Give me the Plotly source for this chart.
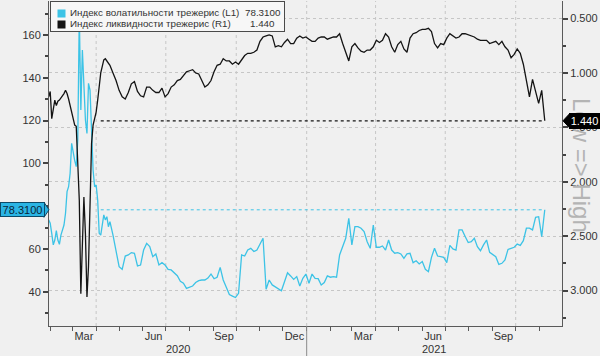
import pandas as pd
import plotly.graph_objects as go

# ---------------- data ----------------
dates_early = pd.date_range("2020-01-30", periods=41, freq="2D")
dates_late = pd.date_range("2020-04-23", periods=142, freq="4D")
dates = list(dates_early) + list(dates_late)

volatility = [
    73.6, 72.0, 67.3, 61.9, 64.2, 68.6, 64.2, 62.2, 66.5, 68.6,
    71.2, 76.7, 86.8, 89.1, 95.4, 109.4, 104.7, 101.3, 98.5, 110.9,
    170.1, 125.0, 153.0, 135.9, 120.3, 114.0, 137.4, 134.3, 110.9, 96.9,
    89.1, 89.9, 82.9, 67.3, 66.5, 72.0, 75.9, 73.6, 75.1, 70.4, 72.8,
    66.5, 58.8, 51.7, 50.5, 56.7, 57.2, 58.3, 58.0, 52.1, 52.5, 59.5, 62.6, 61.1,
    56.4, 57.7, 52.5, 53.6, 52.5, 50.5, 50.2, 48.9, 47.5, 44.9,
    44.0, 41.6, 42.1, 42.7, 44.3, 45.2, 45.5, 45.5, 46.4, 48.3,
    46.1, 46.8, 51.4, 45.5, 42.1, 38.7, 38.0, 37.3, 39.3, 57.2,
    56.7, 59.5, 60.3, 58.8,
    59.5, 62.6, 65.0, 41.2, 45.5, 43.2, 42.4, 41.6, 40.5, 44.7,
    48.9, 47.4, 45.8, 47.1, 42.7, 46.3, 48.3, 44.0, 48.3, 46.3,
    46.1, 43.2, 44.3, 47.4, 46.8, 47.1, 46.8, 57.2, 61.1, 65.0,
    74.3, 61.9, 70.4, 70.4,
    69.7, 68.1, 63.4, 60.3, 71.2, 60.8, 60.8, 61.4, 59.5, 64.2,
    59.5, 58.0, 58.3, 57.7, 55.6, 57.7, 58.0, 53.6, 54.5, 53.0,
    54.1, 50.5, 49.4, 56.1, 60.3, 56.7, 56.4, 56.1, 53.6, 61.7,
    60.0, 59.5, 68.9, 68.9, 65.8,
    63.0, 63.4, 65.0, 61.1, 59.2, 61.9, 64.2, 58.4, 57.2, 56.4,
    52.8, 53.3, 54.9, 59.8, 60.3, 60.8, 62.3, 61.7, 63.9, 69.7,
    69.7, 68.9, 74.8, 75.1, 65.8, 78.31,
]

liquidity = [
    1.22, 1.17, 1.42, 1.31, 1.25, 1.30, 1.26, 1.25, 1.23, 1.22,
    1.19, 1.16, 1.19, 1.24, 1.30, 1.34, 1.43, 1.48, 1.49, 1.77,
    2.17, 3.03, 2.66, 2.14, 2.48, 3.06, 2.78, 2.32, 1.65, 1.48,
    1.42, 1.36, 1.25, 1.10, 1.00, 0.94, 0.88, 0.87, 0.89, 0.91, 0.93,
    1.00, 1.07, 1.16, 1.22, 1.24, 1.18, 1.10, 1.08, 1.17, 1.21, 1.22, 1.13, 1.13,
    1.16, 1.18, 1.18, 1.14, 1.22, 1.19, 1.13, 1.11, 1.07, 1.06,
    1.02, 0.99, 0.98, 0.97, 1.00, 1.01, 1.07, 1.13, 1.11, 1.07,
    0.99, 0.93, 0.92, 0.87, 0.89, 0.89, 0.92, 0.90, 0.92, 0.88,
    0.84, 0.82, 0.82, 0.81,
    0.79, 0.71, 0.67, 0.66, 0.65, 0.66, 0.76, 0.75, 0.76, 0.72,
    0.69, 0.73, 0.73, 0.68, 0.66, 0.68, 0.67, 0.69, 0.71, 0.71,
    0.68, 0.67, 0.67, 0.69, 0.68, 0.67, 0.67, 0.64, 0.73, 0.82,
    0.89, 0.76, 0.73, 0.77,
    0.80, 0.81, 0.79, 0.79, 0.76, 0.70, 0.72, 0.70, 0.64, 0.67,
    0.76, 0.81, 0.74, 0.71, 0.78, 0.81, 0.68, 0.64, 0.63, 0.61,
    0.60, 0.60, 0.59, 0.62, 0.73, 0.77, 0.73, 0.74, 0.68, 0.64,
    0.66, 0.68, 0.67, 0.64, 0.64,
    0.65, 0.66, 0.67, 0.69, 0.70, 0.70, 0.70, 0.73, 0.72, 0.71,
    0.74, 0.71, 0.76, 0.79, 0.86, 0.83, 0.78, 0.82, 0.92, 1.08,
    1.22, 1.06, 1.17, 1.28, 1.16, 1.44,
]

series_names = ["Индекс волатильности трежерис (L1)", "Индекс ликвидности трежерис (R1)"]
vol_last_text = "78.3100"
liq_last_text = "1.440"
right_axis_title = "Low => High"

ref_line_dates = ["2020-04-07", "2021-11-05"]

month_label_dates = ["2020-03-16", "2020-06-15", "2020-09-15", "2020-12-16",
                     "2021-03-16", "2021-06-15", "2021-09-15"]
month_labels = ["Mar", "Jun", "Sep", "Dec", "Mar", "Jun", "Sep"]
quarter_starts = ["2020-04-01", "2020-07-01", "2020-10-01", "2021-01-01",
                  "2021-04-01", "2021-07-01", "2021-10-01"]
month_starts = list(pd.date_range("2020-02-01", "2021-11-01", freq="MS"))
year_labels = ["2020", "2021"]
year_boundary = "2021-01-01"

left_ticks = [40, 60, 80, 100, 120, 140, 160]
left_tick_text = ["40", "60", "", "100", "120", "140", "160"]  # 80 sits under the value tag
right_ticks = [0.5, 1.0, 1.5, 2.0, 2.5, 3.0]

x_start = pd.Timestamp("2020-01-30 10:00")
x_end = pd.Timestamp("2021-11-30 12:00")
left_range = [24.0, 175.9]
right_range = [3.326, 0.339]

# ---------------- styles ----------------
CYAN = "#3cc3e6"
BLACK = "#141414"
BG = "#f0f0f0"
GRID = "#c6c6c6"
AXIS = "#5a5a5a"
FONT = "Liberation Sans"
LEG_SIZE = 9.8
W, H = 600, 356
ML, MR, MT, MB = 49, 38, 1, 30
PW, PH = W - ML - MR, H - MT - MB


def px_x(p):  # pixel column -> paper x
    return (p - ML) / PW


def frac(v, rng):  # axis value -> paper y
    return (v - rng[0]) / (rng[1] - rng[0])


fig = go.Figure()

fig.add_trace(go.Scatter(x=ref_line_dates, y=[volatility[-1]] * 2, mode="lines",
                         line=dict(color=CYAN, width=1, dash="dot"), yaxis="y",
                         showlegend=False, hoverinfo="skip"))
fig.add_trace(go.Scatter(x=dates, y=volatility, mode="lines", name=series_names[0],
                         line=dict(color=CYAN, width=1.3), yaxis="y", showlegend=False))
fig.add_trace(go.Scatter(x=ref_line_dates, y=[liquidity[-1]] * 2, mode="lines",
                         line=dict(color=BLACK, width=1.2, dash="dot"), yaxis="y2",
                         showlegend=False, hoverinfo="skip"))
fig.add_trace(go.Scatter(x=dates, y=liquidity, mode="lines", name=series_names[1],
                         line=dict(color=BLACK, width=1.3), yaxis="y2", showlegend=False))

shapes = []
for q in quarter_starts:
    shapes.append(dict(type="line", xref="x", yref="paper", x0=q, x1=q, y0=0, y1=1,
                       line=dict(color=GRID, width=1, dash="dot"), layer="below"))
shapes.append(dict(type="line", xref="x", yref="paper", x0=year_boundary, x1=year_boundary,
                   y0=0, y1=-0.12, line=dict(color="#8a8a8a", width=1)))

# tag pointers
yv = frac(volatility[-1], left_range)
yr = frac(liquidity[-1], right_range)
hh = 7.5 / PH
shapes.append(dict(type="path", xref="paper", yref="paper",
                   path=f"M {px_x(44)},{yv-hh} L {px_x(49)},{yv} L {px_x(44)},{yv+hh} Z",
                   fillcolor="#2ab4e4", line=dict(color="#0c4a68", width=1), layer="above"))
shapes.append(dict(type="path", xref="paper", yref="paper",
                   path=f"M {px_x(570)},{yr-hh} L {px_x(563)},{yr} L {px_x(570)},{yr+hh} Z",
                   fillcolor="#000000", line=dict(color="#000000", width=1), layer="above"))

NB = "\u00a0"
row1 = frac(12.5, [H - MB, MT])
row2 = frac(23.5, [H - MB, MT])
annotations = [
    # right axis title (drawn first so the value tag sits on top)
    dict(text=right_axis_title, xref="paper", yref="paper", x=px_x(582), y=frac(165, [H - MB, MT]),
         xanchor="center", yanchor="middle", textangle=90, showarrow=False,
         font=dict(family=FONT, size=24, color="#b4b4b4")),
    # legend box
    dict(text=NB, xref="paper", yref="paper", x=px_x(49.5), y=1.0, xanchor="left", yanchor="top",
         width=233, height=29, bgcolor="#f7f7f7", bordercolor="#4a4a4a", borderwidth=1,
         borderpad=0, showarrow=False),
    dict(text=NB, xref="paper", yref="paper", x=px_x(57), y=frac(8.5, [H - MB, MT]),
         xanchor="left", yanchor="top", width=7, height=7, bgcolor=CYAN, borderpad=0,
         showarrow=False, font=dict(size=4)),
    dict(text=NB, xref="paper", yref="paper", x=px_x(57), y=frac(19.5, [H - MB, MT]),
         xanchor="left", yanchor="top", width=7, height=7, bgcolor=BLACK, borderpad=0,
         showarrow=False, font=dict(size=4)),
    dict(text=series_names[0], xref="paper", yref="paper", x=px_x(68), y=row1,
         xanchor="left", yanchor="middle", showarrow=False,
         font=dict(family=FONT, size=LEG_SIZE, color="#333333")),
    dict(text=series_names[1], xref="paper", yref="paper", x=px_x(68), y=row2,
         xanchor="left", yanchor="middle", showarrow=False,
         font=dict(family=FONT, size=LEG_SIZE, color="#333333")),
    dict(text=vol_last_text, xref="paper", yref="paper", x=px_x(243), y=row1,
         xanchor="left", yanchor="middle", showarrow=False,
         font=dict(family=FONT, size=LEG_SIZE, color="#333333")),
    dict(text=liq_last_text, xref="paper", yref="paper", x=px_x(248), y=row2,
         xanchor="left", yanchor="middle", showarrow=False,
         font=dict(family=FONT, size=LEG_SIZE, color="#333333")),
    # last-value tags
    dict(text=vol_last_text, xref="paper", yref="paper", x=px_x(0), y=yv,
         xanchor="left", yanchor="middle", width=43, height=13, borderpad=0,
         bgcolor="#2ab4e4", bordercolor="#0c4a68", borderwidth=1, showarrow=False,
         font=dict(family=FONT, size=11, color="#0b2638")),
    dict(text=liq_last_text, xref="paper", yref="paper", x=px_x(569), y=yr,
         xanchor="left", yanchor="middle", width=29, height=14, borderpad=0,
         bgcolor="#000000", bordercolor="#000000", borderwidth=1, showarrow=False,
         font=dict(family=FONT, size=11, color="#ffffff")),
]
bound = pd.Timestamp(year_boundary)
for lbl, (a, b) in zip(year_labels, [(x_start, bound), (bound, x_end)]):
    annotations.append(dict(text=lbl, xref="x", yref="paper", x=a + (b - a) / 2, y=-0.072,
                            xanchor="center", yanchor="middle", showarrow=False,
                            font=dict(family=FONT, size=11, color="#333333")))

fig.update_layout(
    width=W, height=H,
    margin=dict(l=ML, r=MR, t=MT, b=MB),
    paper_bgcolor=BG, plot_bgcolor=BG,
    showlegend=False,
    shapes=shapes,
    annotations=annotations,
    xaxis=dict(
        type="date", range=[x_start, x_end],
        tickmode="array", tickvals=month_label_dates, ticktext=month_labels,
        ticks="", showgrid=False, zeroline=False,
        showline=True, linecolor=AXIS, linewidth=1,
        tickfont=dict(family=FONT, size=11, color="#333333"),
        minor=dict(tickmode="array", tickvals=month_starts, ticks="outside",
                   ticklen=4, tickcolor=AXIS, showgrid=False),
    ),
    yaxis=dict(
        range=left_range, tickmode="array", tickvals=left_ticks, ticktext=left_tick_text,
        ticks="outside", ticklen=5, tickwidth=2, tickcolor="#444444",
        showgrid=False, zeroline=False,
        showline=True, linecolor=AXIS, linewidth=1,
        tickfont=dict(family=FONT, size=11, color="#333333"),
        minor=dict(dtick=10, ticks="outside", ticklen=3, tickcolor="#444444", showgrid=False),
    ),
    yaxis2=dict(
        range=right_range, overlaying="y", side="right",
        tickmode="array", tickvals=right_ticks, tickformat=".3f",
        ticks="outside", ticklen=5, tickwidth=2, tickcolor="#444444",
        showgrid=True, gridcolor=GRID, griddash="dot", gridwidth=1, zeroline=False,
        showline=True, linecolor=AXIS, linewidth=1,
        tickfont=dict(family=FONT, size=11, color="#333333"),
        minor=dict(dtick=0.25, ticks="outside", ticklen=3, tickcolor="#444444", showgrid=False),
    ),
)

fig.write_html("out.html")
